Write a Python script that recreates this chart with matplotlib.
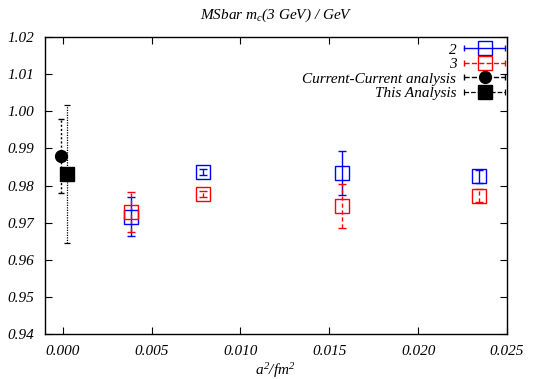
import matplotlib
matplotlib.use("Agg")
import matplotlib.pyplot as plt
from matplotlib.lines import Line2D
from matplotlib.legend_handler import HandlerBase

# ---- data ----
a2 = [0.00385, 0.0079, 0.0157, 0.0234]
mc_2 = [0.9716, 0.9837, 0.9833, 0.9825]
err_2 = [0.0053, 0.0008, 0.0059, 0.0018]
mc_3 = [0.9728, 0.9777, 0.9744, 0.9773]
err_3 = [0.0054, 0.0007, 0.0059, 0.0017]

cc_x = [-0.0001]
cc_val = [0.988]
cc_err = [0.0100]

this_x = [0.00025]
this_val = [0.983]
this_err = [0.0186]

plt.rcParams['font.family'] = ['Liberation Serif', 'DejaVu Serif']
plt.rcParams['font.style'] = 'italic'
plt.rcParams['mathtext.fontset'] = 'custom'
plt.rcParams['mathtext.it'] = 'Liberation Serif:italic'
plt.rcParams['mathtext.rm'] = 'Liberation Serif:italic'


class BarHandler(HandlerBase):
    # gnuplot-style key sample: horizontal bar with end caps and a marker
    def create_artists(self, legend, orig, xd, yd, w, h, fs, trans):
        y = h / 2 - yd
        x0, x1 = -xd, -xd + w
        c = orig.get_color()
        ls = orig.get_linestyle()
        lw = orig.get_linewidth()
        line = Line2D([x0, x1], [y, y], color=c, ls=ls, lw=lw, transform=trans)
        caps = Line2D([x0, x1], [y, y], ls='none', marker='|', ms=5,
                      mew=lw, color=c, transform=trans)
        mk = Line2D([(x0 + x1) / 2], [y], ls='none', marker=orig.get_marker(),
                    ms=orig.get_markersize(), mfc=orig.get_markerfacecolor(),
                    mec=c, mew=orig.get_markeredgewidth(), transform=trans)
        return [line, caps, mk]


fig = plt.figure(figsize=(5.38, 3.79), dpi=100)
ax = fig.add_axes([0.0836, 0.1187, 0.8588, 0.7837])

ax.errorbar(a2, mc_2, yerr=err_2, fmt='s', color='blue', mfc='none', ms=10,
            mew=1.0, elinewidth=1.0, capsize=3, capthick=1.0)
ax.errorbar(a2, mc_3, yerr=err_3, fmt='s', color='red', mfc='none', ms=10,
            mew=1.0, elinewidth=1.0, capsize=3, capthick=1.0, ls='none')
for ln in ax.containers[-1].lines[2]:
    ln.set_linestyle((0, (3, 2)))

e = ax.errorbar(cc_x, cc_val, yerr=cc_err, fmt='o', color='black', ms=8.5,
                elinewidth=1.0, capsize=2, capthick=1.0)
e.lines[2][0].set_linestyle((0, (1.5, 1.5)))

e = ax.errorbar(this_x, this_val, yerr=this_err, fmt='s', color='black', ms=9.5,
                elinewidth=0.9, capsize=2, capthick=0.9)
e.lines[2][0].set_linestyle((0, (1, 1)))

ax.set_xlim(-0.001, 0.025)
ax.set_ylim(0.94, 1.02)
ax.set_xticks([0.0, 0.005, 0.010, 0.015, 0.020, 0.025])
ax.set_xticklabels(['0.000', '0.005', '0.010', '0.015', '0.020', '0.025'])
ax.set_yticks([0.94 + 0.01 * i for i in range(9)])
ax.set_yticklabels(['%.2f' % (0.94 + 0.01 * i) for i in range(9)])
ax.tick_params(direction='in', top=True, right=True, length=5, labelsize=11)
ax.tick_params(axis='x', pad=8)
ax.tick_params(axis='y', pad=8)
for s in ax.spines.values():
    s.set_linewidth(1.0)

ax.set_title(r"MSbar $m_c$(3 GeV) / GeV", fontsize=11, pad=13)
ax.set_xlabel(r"$a^2/fm^2$", fontsize=11, labelpad=2)

handles = [
    Line2D([], [], color='blue', ls='-', lw=1.0, marker='s', ms=10, mfc='none', mew=1.0),
    Line2D([], [], color='red', ls=(0, (3, 2)), lw=1.0, marker='s', ms=10, mfc='none', mew=1.0),
    Line2D([], [], color='black', ls=(0, (1.5, 1.5)), lw=1.0, marker='o', ms=8.5, mfc='black', mew=1.0),
    Line2D([], [], color='black', ls=(0, (1, 1)), lw=0.9, marker='s', ms=9.5, mfc='black', mew=1.0),
]
labels = ['2', '3', 'Current-Current analysis', 'This Analysis']
leg = ax.legend(handles, labels, loc='upper right', bbox_to_anchor=(0.996, 0.98),
                frameon=False, markerfirst=False,
                handler_map={Line2D: BarHandler()}, handlelength=2.7,
                fontsize=11, labelspacing=0.05, borderaxespad=0.0,
                borderpad=0.0, handletextpad=0.5)

fig.savefig("out.png", dpi=100)
